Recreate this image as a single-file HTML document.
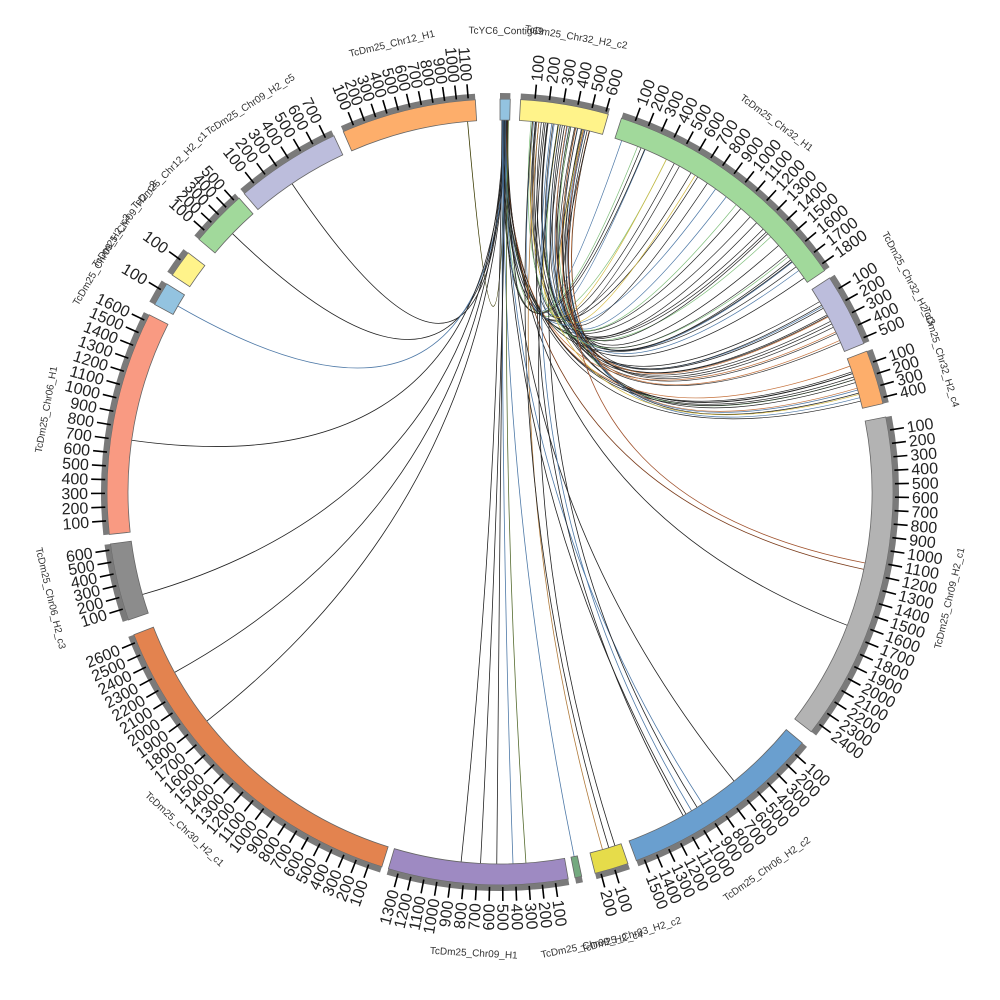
<!DOCTYPE html>
<html><head><meta charset="utf-8">
<style>
html,body{margin:0;padding:0;background:#fff;}
svg{display:block;}
text{font-family:"Liberation Sans",sans-serif;}
.t{font-size:16px;fill:#222;}
.n{font-size:10px;fill:#333;}
</style></head>
<body>
<svg id="c" width="1000" height="1000" viewBox="0 0 1000 1000" xmlns="http://www.w3.org/2000/svg">
<rect width="1000" height="1000" fill="#fff"/>
<g id="links" fill="none"></g>
<g id="blocks"></g>
<g id="g0"><text class="n">TcYC6_Contig69</text></g>
<g id="g1"><text class="n">TcDm25_Chr32_H2_c2</text><text>100</text><text>200</text><text>300</text><text>400</text><text>500</text><text>600</text></g>
<g id="g2"><text class="n">TcDm25_Chr32_H1</text><text>100</text><text>200</text><text>300</text><text>400</text><text>500</text><text>600</text><text>700</text><text>800</text><text>900</text><text>1000</text><text>1100</text><text>1200</text><text>1300</text><text>1400</text><text>1500</text><text>1600</text><text>1700</text><text>1800</text></g>
<g id="g3"><text class="n">TcDm25_Chr32_H2_c3</text><text>100</text><text>200</text><text>300</text><text>400</text><text>500</text></g>
<g id="g4"><text class="n">TcDm25_Chr32_H2_c4</text><text>100</text><text>200</text><text>300</text><text>400</text></g>
<g id="g5"><text class="n">TcDm25_Chr09_H2_c1</text><text>100</text><text>200</text><text>300</text><text>400</text><text>500</text><text>600</text><text>700</text><text>800</text><text>900</text><text>1000</text><text>1100</text><text>1200</text><text>1300</text><text>1400</text><text>1500</text><text>1600</text><text>1700</text><text>1800</text><text>1900</text><text>2000</text><text>2100</text><text>2200</text><text>2300</text><text>2400</text></g>
<g id="g6"><text class="n">TcDm25_Chr06_H2_c2</text><text>100</text><text>200</text><text>300</text><text>400</text><text>500</text><text>600</text><text>700</text><text>800</text><text>900</text><text>1000</text><text>1100</text><text>1200</text><text>1300</text><text>1400</text><text>1500</text></g>
<g id="g7"><text class="n">TcDm25_Chr03_H2_c2</text><text>100</text><text>200</text></g>
<g id="g8"><text class="n">TcDm25_Chr09_H2_c4</text></g>
<g id="g9"><text class="n">TcDm25_Chr09_H1</text><text>100</text><text>200</text><text>300</text><text>400</text><text>500</text><text>600</text><text>700</text><text>800</text><text>900</text><text>1000</text><text>1100</text><text>1200</text><text>1300</text></g>
<g id="g10"><text class="n">TcDm25_Chr30_H2_c1</text><text>100</text><text>200</text><text>300</text><text>400</text><text>500</text><text>600</text><text>700</text><text>800</text><text>900</text><text>1000</text><text>1100</text><text>1200</text><text>1300</text><text>1400</text><text>1500</text><text>1600</text><text>1700</text><text>1800</text><text>1900</text><text>2000</text><text>2100</text><text>2200</text><text>2300</text><text>2400</text><text>2500</text><text>2600</text></g>
<g id="g11"><text class="n">TcDm25_Chr06_H2_c3</text><text>100</text><text>200</text><text>300</text><text>400</text><text>500</text><text>600</text></g>
<g id="g12"><text class="n">TcDm25_Chr06_H1</text><text>100</text><text>200</text><text>300</text><text>400</text><text>500</text><text>600</text><text>700</text><text>800</text><text>900</text><text>1000</text><text>1100</text><text>1200</text><text>1300</text><text>1400</text><text>1500</text><text>1600</text></g>
<g id="g13"><text class="n">TcDm25_Chr09_H2_c3</text><text>100</text></g>
<g id="g14"><text class="n">TcDm25_Chr09_H2_c2</text><text>100</text></g>
<g id="g15"><text class="n">TcDm25_Chr12_H2_c1</text><text>100</text><text>200</text><text>300</text><text>400</text><text>500</text></g>
<g id="g16"><text class="n">TcDm25_Chr09_H2_c5</text><text>100</text><text>200</text><text>300</text><text>400</text><text>500</text><text>600</text><text>700</text></g>
<g id="g17"><text class="n">TcDm25_Chr12_H1</text><text>100</text><text>200</text><text>300</text><text>400</text><text>500</text><text>600</text><text>700</text><text>800</text><text>900</text><text>1000</text><text>1100</text></g>
</svg>
<script>
(function(){
var CX=500,CY=492,R1=372,R2=393,R3=399;
var S=[[0,1.5,10,'#93c3e0'],[3,16,620,'#fff38a'],[18,55.7,1850,'#a1d99b'],[57,67.8,540,'#bcbddc'],[69,77,450,'#fdae6b'],[79,127.6,2480,'#b3b3b3'],[129.7,159.7,1560,'#6a9fcf'],[161,166,240,'#e6dc4a'],[168,169,20,'#74a97f'],[170,196.5,1380,'#9e8ac2'],[197.5,248.7,2660,'#e3834f'],[251,262.4,650,'#8c8c8c'],[263.8,296.8,1650,'#f99a82'],[298.5,302,150,'#93c3e0'],[303.5,307.5,160,'#fff38a'],[310,318.4,550,'#a1d99b'],[319.4,335,760,'#bcbddc'],[336.5,356.4,1160,'#fdae6b']];
var NS='http://www.w3.org/2000/svg';
function P(t,r){var a=t*Math.PI/180;return [CX+r*Math.sin(a),CY-r*Math.cos(a)];}
function ann(s,e,ri,ro){var a=P(s,ro),b=P(e,ro),c=P(e,ri),d=P(s,ri);var l=(e-s)>180?1:0;
return 'M'+a[0]+' '+a[1]+'A'+ro+' '+ro+' 0 '+l+' 1 '+b[0]+' '+b[1]+'L'+c[0]+' '+c[1]+'A'+ri+' '+ri+' 0 '+l+' 0 '+d[0]+' '+d[1]+'Z';}
function el(n,at,p){var e=document.createElementNS(NS,n);for(var k in at)e.setAttribute(k,at[k]);p.appendChild(e);return e;}
var B=document.getElementById('blocks');
S.forEach(function(s,i){
 el('path',{d:ann(s[0],s[1],R1,R2),fill:s[3],stroke:'#666','stroke-width':0.8},B);
 el('path',{d:ann(s[0],s[1],R2,R3),fill:'#7a7a7a'},B);
 var g=document.getElementById('g'+i);var ch=g.children;
 var m=(s[0]+s[1])/2, nm=ch[0];
 var up=(m<90||m>270);
 var p=P(m,458);
 nm.setAttribute('x',p[0]);nm.setAttribute('y',p[1]);nm.setAttribute('text-anchor','middle');
 nm.setAttribute('dy',up?'0':'0.7em');
 nm.setAttribute('transform','rotate('+(up?m:m-180)+' '+p[0]+' '+p[1]+')');
 for(var k=1;k<ch.length;k++){
  var t=s[0]+(100*k/s[2])*(s[1]-s[0]);
  var a=P(t,395),b=P(t,409);
  el('line',{x1:a[0],y1:a[1],x2:b[0],y2:b[1],stroke:'#000','stroke-width':1.6},B);
  var q=P(t,412),tx=ch[k];tx.setAttribute('class','t');
  tx.setAttribute('x',q[0]);tx.setAttribute('y',q[1]);tx.setAttribute('dy','0.35em');
  if(t<180){tx.setAttribute('text-anchor','start');tx.setAttribute('transform','rotate('+(t-90)+' '+q[0]+' '+q[1]+')');}
  else{tx.setAttribute('text-anchor','end');tx.setAttribute('transform','rotate('+(t+90)+' '+q[0]+' '+q[1]+')');}
 }
});
var L=document.getElementById('links');
function link(a,b,c,w){var p=P(a,R1),q=P(b,R1);el('path',{d:'M'+p[0]+' '+p[1]+'Q'+CX+' '+CY+' '+q[0]+' '+q[1],stroke:c,'stroke-width':w||0.8},L);}
var seed=7;function rnd(){seed=(seed*16807)%2147483647;return (seed-1)/2147483646;}
var cols=['#222','#222','#222','#222','#222','#333','#d4b93c','#7fbf7b','#c4703a','#4e79a7'];
for(var i=0;i<60;i++){
 var a=rnd()<0.3?0.3+rnd()*1.0:4+rnd()*10;
 var r=rnd(),b;
 if(r<0.6)b=19+rnd()*36;else if(r<0.8)b=58+rnd()*9;else b=70+rnd()*6;
 link(a,b,cols[Math.floor(rnd()*cols.length)],0.7);
}
var sp=[[0.8,355,'#3a3a00'],[0.6,326,'#222'],[0.9,314,'#222'],[1.0,300,'#4e79a7'],[0.7,278,'#222'],[0.5,254,'#222'],[0.6,241,'#222'],[0.9,232,'#222'],
[1.1,102,'#7a3b1a'],[1.2,111,'#222'],[13,101,'#a0522d'],[0.4,178,'#4e79a7'],[0.7,180.5,'#222'],[1.0,183,'#222'],[0.5,168.5,'#4e79a7'],[6,164,'#b07a3a'],[5,163,'#222'],
[0.6,150,'#222'],[0.8,147,'#4e79a7'],[1.2,141,'#222'],[7,150.5,'#222'],[8,149,'#4e79a7'],[0.3,186,'#222'],[9,162,'#222'],[10,148,'#222'],[1.3,176,'#556b2f']];
sp.forEach(function(s){link(s[0],s[1],s[2],0.8);});
})();
</script>
</body></html>
